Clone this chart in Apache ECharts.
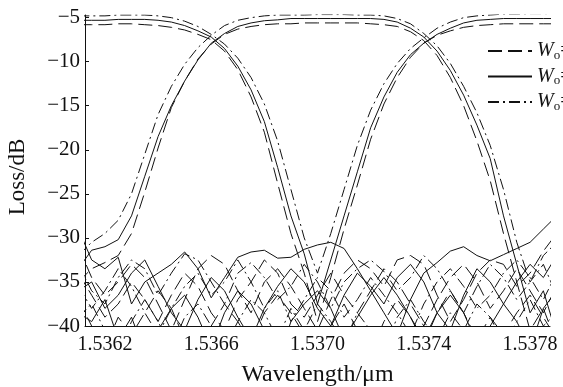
<!DOCTYPE html>
<html>
<head>
<meta charset="utf-8">
<script src="https://cdn.jsdelivr.net/npm/echarts@6/dist/echarts.min.js"></script>
<style>html,body{margin:0;padding:0;background:#fff;}#c{width:563px;height:387px;}</style>
</head>
<body>
<div id="c"></div>
<script>
var wavelength = [1.53610,1.53615,1.53620,1.53625,1.53630,1.53635,1.53640,1.53645,1.53650,1.53655,1.53660,1.53665,1.53670,1.53675,1.53680,1.53685,1.53690,1.53695,1.53700,1.53705,1.53710,1.53715,1.53720,1.53725,1.53730,1.53735,1.53740,1.53745,1.53750,1.53755,1.53760,1.53765,1.53770,1.53775,1.53780,1.53785,1.53790];
var xTickLabels = [1.5362,1.5366,1.5370,1.5374,1.5378];
var yTickLabels = [-40,-35,-30,-25,-20,-15,-10,-5];
var legendNames = ['W_o=0.6 μm','W_o=0.8 μm','W_o=1.0 μm'];

// dashed W_o
var portA_dash = [-5.8,-5.8,-5.8,-5.7,-5.7,-5.8,-5.9,-6.1,-6.4,-6.9,-7.5,-8.8,-10.9,-14.0,-18.0,-23.8,-29.5,-34.0,-39.5,-34.5,-29.0,-24.0,-18.8,-14.8,-11.8,-9.5,-7.9,-7.0,-6.5,-6.1,-5.9,-5.8,-5.7,-5.7,-5.7,-5.7,-5.7];
var portB_dash = [-35.0,-33.5,-32.8,-32.0,-29.5,-24.8,-19.8,-15.2,-12.2,-9.7,-8.0,-6.9,-6.3,-6.0,-5.8,-5.7,-5.7,-5.6,-5.6,-5.6,-5.6,-5.6,-5.7,-5.8,-6.0,-6.6,-7.6,-9.3,-11.8,-15.0,-19.0,-23.5,-29.5,-35.0,-40.5,-38.0,-42.0];
var xtalk1_dash = [-31.0,-34.5,-36.5,-35.0,-33.0,-34.5,-37.5,-40.5,-37.0,-33.5,-32.0,-33.0,-36.0,-38.5,-35.0,-33.5,-35.5,-38.0,-40.5,-37.0,-34.0,-32.5,-33.5,-35.5,-32.5,-32.0,-33.0,-36.5,-39.5,-37.0,-34.0,-32.5,-33.0,-35.5,-34.0,-31.5,-29.5];
var xtalk2_dash = [-37.0,-40.0,-42.5,-39.0,-41.0,-38.5,-36.0,-38.0,-41.5,-44.0,-40.0,-37.5,-39.5,-42.0,-38.5,-36.5,-38.5,-41.0,-43.5,-40.0,-37.5,-40.5,-43.0,-39.5,-37.0,-39.0,-41.5,-38.5,-36.0,-38.5,-41.5,-39.0,-41.0,-38.5,-36.5,-39.0,-41.5];
var xtalk3_dash = [-34.0,-36.5,-39.0,-37.5,-35.0,-37.0,-39.5,-36.5,-34.0,-35.5,-38.5,-40.5,-37.0,-35.0,-32.5,-34.0,-37.5,-39.0,-36.5,-34.0,-36.5,-38.5,-36.0,-33.5,-35.0,-37.5,-40.0,-37.0,-34.5,-33.0,-35.0,-38.0,-36.0,-33.5,-36.0,-38.5,-35.5];

// solid W_o
var portA_solid = [-5.3,-5.3,-5.3,-5.2,-5.2,-5.2,-5.3,-5.5,-5.9,-6.5,-7.2,-8.5,-10.5,-13.2,-16.8,-22.0,-27.5,-31.8,-37.5,-32.5,-27.5,-22.5,-17.5,-14.0,-11.2,-9.2,-7.9,-6.9,-6.2,-5.6,-5.3,-5.2,-5.1,-5.1,-5.1,-5.1,-5.1];
var portB_solid = [-33.5,-31.4,-31.0,-30.2,-27.5,-23.0,-18.5,-15.0,-12.2,-9.8,-7.9,-6.8,-6.0,-5.6,-5.35,-5.25,-5.1,-5.1,-5.1,-5.1,-5.1,-5.1,-5.1,-5.2,-5.5,-6.2,-7.2,-8.8,-11.0,-13.8,-17.2,-21.0,-27.5,-33.0,-38.5,-36.0,-41.0];
var xtalk1_solid = [-29.0,-32.5,-33.5,-32.2,-37.5,-35.0,-34.0,-33.0,-31.6,-33.5,-36.8,-34.5,-32.2,-31.6,-31.4,-32.3,-32.2,-31.3,-30.8,-30.5,-31.2,-33.5,-36.0,-38.5,-41.0,-37.0,-34.0,-32.8,-31.5,-31.0,-32.0,-32.6,-31.9,-31.2,-30.5,-29.0,-27.5];
var xtalk2_solid = [-38.5,-39.5,-37.0,-41.5,-39.0,-43.0,-40.5,-38.0,-36.5,-39.0,-42.5,-38.5,-36.0,-37.5,-40.5,-44.0,-39.5,-37.5,-36.0,-38.0,-41.5,-39.0,-36.5,-34.5,-36.5,-39.0,-42.0,-38.5,-36.5,-38.5,-42.0,-40.0,-37.5,-39.5,-42.5,-38.0,-36.0];
var xtalk3_solid = [-36.0,-35.0,-38.0,-36.5,-34.0,-32.5,-35.5,-38.5,-40.5,-37.0,-34.5,-36.0,-39.0,-41.5,-38.0,-35.5,-33.5,-35.0,-38.0,-40.0,-36.5,-34.0,-35.5,-37.5,-34.5,-33.0,-35.0,-38.5,-40.5,-36.5,-33.5,-35.0,-37.5,-35.0,-33.0,-34.5,-32.0];

// dash-dot W_o
var portA_dd = [-4.8,-4.8,-4.8,-4.7,-4.7,-4.7,-4.8,-5.0,-5.4,-6.0,-6.9,-8.0,-9.6,-11.8,-14.8,-19.0,-24.5,-30.0,-34.0,-29.5,-24.5,-19.5,-15.5,-12.5,-10.2,-8.5,-7.3,-6.2,-5.5,-5.0,-4.8,-4.7,-4.6,-4.6,-4.55,-4.55,-4.55];
var portB_dd = [-32.0,-30.5,-29.5,-28.0,-25.0,-20.5,-16.0,-12.8,-10.3,-8.4,-7.0,-5.9,-5.3,-5.0,-4.8,-4.7,-4.7,-4.7,-4.65,-4.65,-4.65,-4.7,-4.7,-4.8,-5.1,-5.7,-6.8,-8.2,-10.2,-12.8,-15.8,-19.5,-24.5,-30.5,-35.0,-33.0,-36.5];
var xtalk1_dd = [-33.0,-36.0,-37.5,-34.5,-32.5,-33.5,-36.5,-34.0,-31.8,-32.5,-35.0,-37.5,-34.0,-32.8,-34.5,-37.0,-35.5,-33.0,-35.0,-38.0,-35.0,-33.5,-32.5,-33.8,-36.0,-34.5,-32.0,-33.5,-36.0,-38.5,-35.5,-33.0,-34.5,-37.0,-35.0,-32.0,-30.5];
var xtalk2_dd = [-39.0,-37.5,-40.5,-43.0,-39.5,-37.0,-39.5,-42.5,-39.0,-37.5,-40.0,-42.5,-39.5,-37.0,-38.5,-41.5,-38.0,-40.5,-37.5,-39.5,-42.0,-38.5,-40.5,-43.0,-39.0,-37.0,-39.5,-41.5,-38.5,-40.5,-37.5,-39.0,-42.0,-39.5,-37.0,-40.0,-38.5];
var xtalk3_dd = [-35.5,-38.0,-36.0,-33.5,-35.5,-38.5,-41.0,-38.0,-35.5,-34.0,-36.5,-35.0,-32.5,-35.0,-38.0,-36.0,-39.5,-37.0,-34.5,-36.0,-39.0,-37.0,-34.5,-36.5,-38.5,-41.0,-37.5,-35.0,-33.5,-35.5,-38.0,-36.5,-34.0,-32.5,-34.5,-37.0,-34.0];

function pairs(ys){ return wavelength.map(function(x,i){ return [x, ys[i]]; }); }
var FONT = 'Liberation Serif';
var INK = '#111';
var styles = [
  {name: legendNames[0], type: [14, 6], sets: [portA_dash, portB_dash, xtalk1_dash, xtalk2_dash, xtalk3_dash]},
  {name: legendNames[1], type: 'solid', sets: [portA_solid, portB_solid, xtalk1_solid, xtalk2_solid, xtalk3_solid]},
  {name: legendNames[2], type: [11, 4, 2, 4], sets: [portA_dd, portB_dd, xtalk1_dd, xtalk2_dd, xtalk3_dd]}
];
var series = [];
styles.forEach(function(s){
  s.sets.forEach(function(d){
    series.push({
      name: s.name, type: 'line', data: pairs(d), showSymbol: false, symbol: 'none',
      animation: false, clip: true,
      lineStyle: {color: INK, width: 1, type: s.type},
      itemStyle: {color: INK}
    });
  });
});

var chart = echarts.init(document.getElementById('c'), null, {renderer: 'canvas'});
chart.setOption({
  animation: false,
  backgroundColor: '#fff',
  grid: {left: 85, right: 13, top: 15, bottom: 61, containLabel: false, outerBoundsMode: 'none'},
  legend: {
    data: legendNames, orient: 'vertical', left: 482, top: 36,
    itemWidth: 44, itemHeight: 14, itemGap: 4.5,
    itemStyle: {opacity: 0},
    textStyle: {
      fontFamily: FONT, fontSize: 20, color: INK, lineHeight: 20,
      rich: {
        w: {fontFamily: FONT, fontSize: 20, fontStyle: 'italic', color: INK},
        s: {fontFamily: FONT, fontSize: 13, color: INK, padding: [9, 0, 0, 0]},
        t: {fontFamily: FONT, fontSize: 20, color: INK}
      }
    },
    formatter: function(n){ return '{w|W}{s|o}{t|=' + n.split('=')[1] + '}'; }
  },
  xAxis: {
    type: 'value', min: 1.536125, max: 1.537875,
    name: 'Wavelength/μm', nameLocation: 'middle', nameGap: 37,
    nameTextStyle: {fontFamily: FONT, fontSize: 24, color: INK},
    axisLine: {show: true, onZero: false, lineStyle: {color: INK, width: 1}},
    axisTick: {show: false},
    splitLine: {show: false},
    axisLabel: {
      customValues: xTickLabels, margin: 9,
      fontFamily: FONT, fontSize: 20, color: INK,
      formatter: function(v){ return v.toFixed(4); }
    }
  },
  yAxis: {
    type: 'value', min: -40, max: -4.7,
    name: 'Loss/dB', nameLocation: 'middle', nameGap: 56, nameRotate: 90,
    nameTextStyle: {fontFamily: FONT, fontSize: 23, color: INK, padding: [0, 13, 0, 0]},
    axisLine: {show: true, onZero: false, lineStyle: {color: INK, width: 1}},
    axisTick: {show: true, inside: true, length: 4, customValues: yTickLabels, lineStyle: {color: INK}},
    splitLine: {show: false},
    axisLabel: {
      customValues: yTickLabels, margin: 5,
      fontFamily: FONT, fontSize: 21, color: INK,
      formatter: function(v){ return v < 0 ? '\u2212' + Math.abs(v) : String(v); }
    }
  },
  series: series
});
</script>
</body>
</html>
